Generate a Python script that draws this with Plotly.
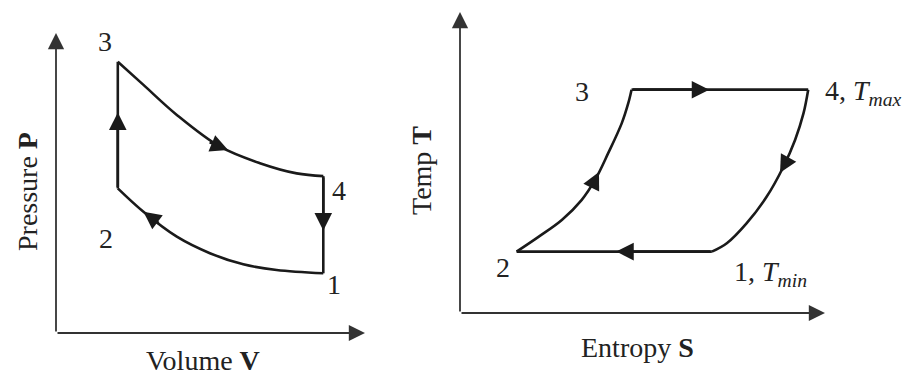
import plotly.graph_objects as go

# ---------------- data (arbitrary units) ----------------
# P-V diagram (Otto cycle)
V_12 = [8.65, 7.14, 6.06, 4.98, 3.91, 2.83, 2.0]      # compression 1 -> 2
P_12 = [1.99, 2.10, 2.29, 2.66, 3.21, 4.04, 4.82]
V_34 = [2.0, 2.83, 3.91, 5.31, 6.60, 7.79, 8.65]      # expansion 3 -> 4
P_34 = [9.04, 8.27, 7.27, 6.21, 5.66, 5.32, 5.23]
PV_labels = ["1", "2", "3", "4"]

# T-S diagram
S_23 = [1.55, 2.15, 2.79, 3.33, 3.70, 4.06, 4.43, 4.61, 4.70]   # 2 -> 3
T_23 = [2.04, 2.53, 3.09, 3.75, 4.42, 5.31, 6.30, 6.97, 7.42]
S_41 = [9.54, 9.41, 9.18, 8.86, 8.40, 7.85, 7.31, 6.90]         # 4 -> 1
T_41 = [7.42, 6.63, 5.75, 4.86, 3.86, 2.98, 2.32, 2.04]
TS_labels = ["1, <i>T</i><sub><i>min</i></sub>", "2", "3", "4, <i>T</i><sub><i>max</i></sub>"]

AX_RANGE = [0, 10]

# ---------------- styling ----------------
W, H = 907, 380
LINE = "#1a1a1a"
AXC = "#333333"
TXT = "#222222"
FONT = "Liberation Serif, Times New Roman, serif"
LW = 2.6
FS = 28
HEAD = 1.35

def px(xp):
    return xp / W

def py(yp):
    return 1 - yp / H

fig = go.Figure()

def path(x, y, xa, ya, shape="spline"):
    fig.add_trace(go.Scatter(x=x, y=y, xaxis=xa, yaxis=ya, mode="lines",
                             line=dict(color=LINE, width=LW, shape=shape, smoothing=1.0),
                             hoverinfo="skip", showlegend=False))

# P-V cycle
path(V_12, P_12, "x", "y")
path([V_12[-1], V_34[0]], [P_12[-1], P_34[0]], "x", "y", "linear")
path(V_34, P_34, "x", "y")
path([V_34[-1], V_12[0]], [P_34[-1], P_12[0]], "x", "y", "linear")

# T-S cycle
path([S_41[-1], S_23[0]], [T_41[-1], T_23[0]], "x2", "y2", "linear")
path(S_23, T_23, "x2", "y2")
path([S_23[-1], S_41[0]], [T_23[-1], T_41[0]], "x2", "y2", "linear")
path(S_41, T_41, "x2", "y2")

annotations = []

def head(x0, y0, x1, y1, xr, yr, color=LINE, width=LW, size=HEAD, standoff=0):
    annotations.append(dict(x=x1, y=y1, ax=x0, ay=y0, xref=xr, yref=yr, axref=xr, ayref=yr,
                            text="", showarrow=True, arrowhead=2, arrowsize=size,
                            arrowwidth=width, arrowcolor=color, standoff=standoff))

def head_on_segment(xa, ya, xb, yb, f, xr, yr):
    # arrow along a straight segment, tip at fraction f
    head(xa, ya, xa + (xb - xa) * f, ya + (yb - ya) * f, xr, yr)

def head_on_curve(xs, ys, i, f, xr, yr):
    # arrow on a curve, tip between point i and i+1 (travel direction = increasing index)
    dx, dy = xs[i + 1] - xs[i], ys[i + 1] - ys[i]
    xt, yt = xs[i] + f * dx, ys[i] + f * dy
    head(xt - 0.5 * dx, yt - 0.5 * dy, xt, yt, xr, yr)

# direction arrows P-V
head_on_segment(V_12[-1], P_12[-1], V_34[0], P_34[0], 0.60, "x", "y")     # 2 -> 3 up
head_on_segment(V_34[-1], P_34[-1], V_12[0], P_12[0], 0.56, "x", "y")     # 4 -> 1 down
head_on_curve(V_34, P_34, 3, 0.2, "x", "y")                               # on 3 -> 4
head_on_curve(V_12, P_12, 4, 1.0, "x", "y")                               # on 1 -> 2

# direction arrows T-S
head_on_segment(S_23[-1], T_23[-1], S_41[0], T_41[0], 0.44, "x2", "y2")   # 3 -> 4
head_on_segment(S_41[-1], T_41[-1], S_23[0], T_23[0], 0.49, "x2", "y2")   # 1 -> 2
head_on_curve(S_23, T_23, 4, 0.3, "x2", "y2")                             # on 2 -> 3
head_on_curve(S_41, T_41, 3, 0.2, "x2", "y2")                             # on 4 -> 1

# coordinate axes with arrow tips
for xr, yr in (("x", "y"), ("x2", "y2")):
    head(0, 0, AX_RANGE[1], 0, xr, yr, color=AXC, width=1.8, size=1.8, standoff=0)
    head(0, 0, 0, AX_RANGE[1], xr, yr, color=AXC, width=1.8, size=1.8, standoff=0)

def label(text, x, y, xr, yr, xs, ys, xanchor="center"):
    annotations.append(dict(text=text, x=x, y=y, xref=xr, yref=yr, showarrow=False,
                            xanchor=xanchor, yanchor="middle", xshift=xs, yshift=ys,
                            font=dict(family=FONT, size=FS, color=TXT)))

# point labels P-V
label(PV_labels[0], V_12[0], P_12[0], "x", "y", 11, -11)
label(PV_labels[1], V_12[-1], P_12[-1], "x", "y", -12, -50)
label(PV_labels[2], V_34[0], P_34[0], "x", "y", -13, 20)
label(PV_labels[3], V_34[-1], P_34[-1], "x", "y", 16, -14)

# point labels T-S
label(TS_labels[0], S_41[-1], T_41[-1], "x2", "y2", 20, -22, "left")
label(TS_labels[1], S_23[0], T_23[0], "x2", "y2", -14, -16)
label(TS_labels[2], S_23[-1], T_23[-1], "x2", "y2", -50, -2)
label(TS_labels[3], S_41[0], T_41[0], "x2", "y2", 15, -3, "left")

def title(text, xp, yp, angle=0):
    annotations.append(dict(text=text, x=px(xp), y=py(yp), xref="paper", yref="paper",
                            showarrow=False, xanchor="center", yanchor="middle",
                            textangle=angle, font=dict(family=FONT, size=FS, color=TXT)))

title("Pressure <b>P</b>", 27, 192, -90)
title("Volume <b>V</b>", 203, 360)
title("Temp <b>T</b>", 422, 171, -90)
title("Entropy <b>S</b>", 637, 347)

hidden = dict(visible=False, range=AX_RANGE, fixedrange=True)
fig.update_layout(
    width=W, height=H,
    margin=dict(l=0, r=0, t=0, b=0),
    paper_bgcolor="white", plot_bgcolor="white",
    showlegend=False,
    xaxis=dict(hidden, domain=[px(56), px(365)], anchor="y"),
    yaxis=dict(hidden, domain=[py(333), py(33)], anchor="x"),
    xaxis2=dict(hidden, domain=[px(460), px(825)], anchor="y2"),
    yaxis2=dict(hidden, domain=[py(313), py(12)], anchor="x2"),
    annotations=annotations,
)

fig.write_html("out.html", config={"displayModeBar": False},
               post_script="document.body.style.margin='0';document.body.style.overflow='hidden';")
